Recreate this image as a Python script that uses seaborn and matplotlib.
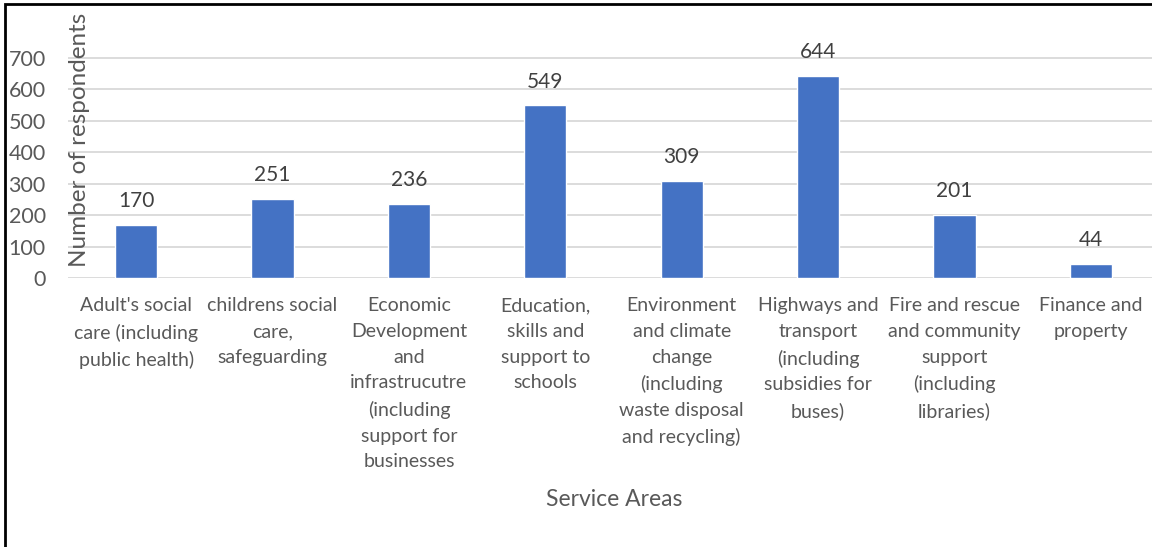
import pandas as pd
import matplotlib
matplotlib.use("Agg")
import matplotlib.pyplot as plt
import seaborn as sns
from matplotlib.patches import Rectangle

# Data
categories = [
    "Adult's social care (including public health)",
    "childrens social care, safeguarding",
    "Economic Development and infrastrucutre (including support for businesses",
    "Education, skills and support to schools",
    "Environment and climate change (including waste disposal and recycling)",
    "Highways and transport (including subsidies for buses)",
    "Fire and rescue and community support (including libraries)",
    "Finance and property",
]
respondents = [170, 251, 236, 549, 309, 644, 201, 44]
tick_labels = [
    "Adult's social\ncare (including\npublic health)",
    "childrens social\ncare,\nsafeguarding",
    "Economic\nDevelopment\nand\ninfrastrucutre\n(including\nsupport for\nbusinesses",
    "Education,\nskills and\nsupport to\nschools",
    "Environment\nand climate\nchange\n(including\nwaste disposal\nand recycling)",
    "Highways and\ntransport\n(including\nsubsidies for\nbuses)",
    "Fire and rescue\nand community\nsupport\n(including\nlibraries)",
    "Finance and\nproperty",
]
y_ticks = [0, 100, 200, 300, 400, 500, 600, 700]

df = pd.DataFrame({"Service Area": categories, "Respondents": respondents})

sns.set_style("white")
plt.rcParams["font.family"] = ["Lato", "DejaVu Sans"]

fig = plt.figure(figsize=(11.52, 5.47), dpi=100)
W, H = 1152, 547
# axes placed in pixel terms: left 68, right 1159, zero line at 278, top at ~26.6
ax = fig.add_axes([68 / W, 1 - 278 / H, (1159 - 68) / W, (278 - 26.6) / H])

sns.barplot(data=df, x="Service Area", y="Respondents", color="#4472C4",
            width=0.31, saturation=1, ax=ax)

ax.set_ylim(0, 800)
ax.set_xlim(-0.5, len(categories) - 0.5)
ax.set_yticks(y_ticks)
for y in y_ticks:
    ax.axhline(y, color="#d9d9d9", lw=1.3, zorder=0)
ax.set_axisbelow(True)
for s in ax.spines.values():
    s.set_visible(False)

ax.set_xticks(range(len(categories)))
ax.set_xticklabels(tick_labels, fontsize=14, color="#595959", linespacing=1.62)
ax.tick_params(axis="x", length=0, pad=14)
ax.tick_params(axis="y", length=0, pad=16, labelsize=15.5, labelcolor="#595959")

ax.bar_label(ax.containers[0], labels=[str(v) for v in respondents],
             padding=10, fontsize=15, color="#404040")

ax.set_xlabel("")
ax.set_ylabel("")
fig.text(614 / W, 1 - 500 / H, "Service Areas", ha="center", va="center",
         fontsize=16.5, color="#595959")
fig.text(80 / W, 1 - 140 / H, "Number of respondents", rotation=90,
         ha="center", va="center", fontsize=17.5, color="#595959")

# outer frame (cropped on right and bottom in the reference)
fig.patches.append(Rectangle((5 / W, -0.1), 1.2, 1 - 4 / H + 0.1,
                             transform=fig.transFigure, fill=False,
                             edgecolor="black", lw=2))

fig.savefig("out.png", dpi=100)
